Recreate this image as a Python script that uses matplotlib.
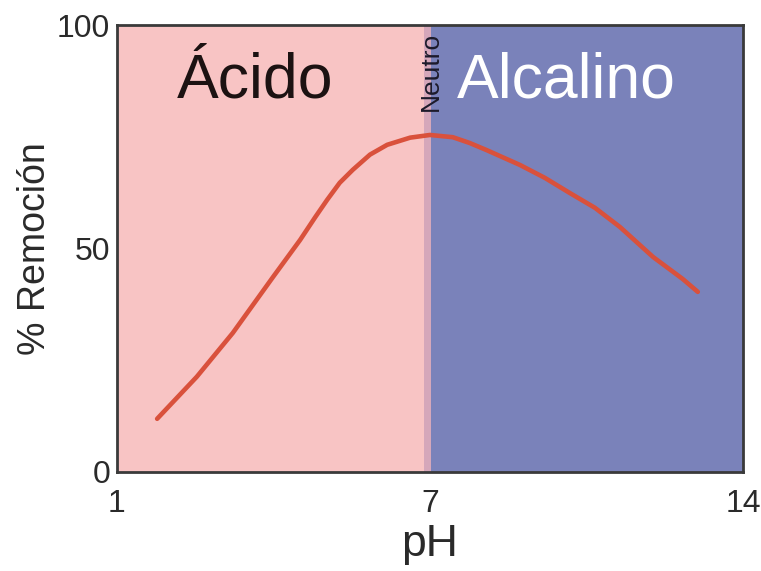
import numpy as np
import matplotlib
matplotlib.use("Agg")
import matplotlib.pyplot as plt

plt.rcParams['font.family'] = ['Liberation Sans', 'DejaVu Sans']

# pH vs % removal curve
ph = [1.77, 2.53, 3.22, 3.99, 4.51, 4.80, 5.03, 5.27, 5.52, 5.85, 6.18, 6.62, 7.0,
      7.51, 7.89, 8.27, 9.01, 9.57, 10.13, 10.69, 11.25, 11.99, 12.65, 12.99]
remocion = [11.9, 21.3, 31.1, 43.6, 51.9, 57.0, 60.9, 64.7, 67.6, 71.0, 73.2, 74.8, 75.4,
            74.9, 73.6, 72.0, 68.7, 65.8, 62.4, 59.1, 54.8, 48.1, 43.2, 40.3]

x_ticks = [1, 7, 14]
y_ticks = [0, 50, 100]
zone_labels = ["Ácido", "Neutro", "Alcalino"]

# Piecewise scale: acid range (1-7) and alkaline range (7-14) each take half the axis
def fwd(x):
    x = np.asarray(x, dtype=float)
    return np.where(x <= 7, (x - 1) / 6 * 0.5, 0.5 + (x - 7) / 7 * 0.5)

def inv(u):
    u = np.asarray(u, dtype=float)
    return np.where(u <= 0.5, 1 + u / 0.5 * 6, 7 + (u - 0.5) / 0.5 * 7)

fig = plt.figure(figsize=(7.61, 5.71), dpi=100)
ax = fig.add_axes([0.1537, 0.1734, 0.8226, 0.7828])
ax.set_xscale('function', functions=(fwd, inv))
ax.set_xlim(1, 14)
ax.set_ylim(0, 100)

ax.axvspan(1, 7, color='#f8c4c4', lw=0, zorder=0)
ax.axvspan(7, 14, color='#7a82ba', lw=0, zorder=0)
ax.axvspan(6.88, 7.03, color='#d5a7ba', lw=0, zorder=0.5)

ax.plot(ph, remocion, color='#d9513c', lw=3.3, solid_capstyle='round',
        solid_joinstyle='round', zorder=3)

ax.text(2.15, 87.5, zone_labels[0], fontsize=45, color='#1c1212',
        ha='left', va='center')
ax.text(7.03, 98.4, zone_labels[1], fontsize=19, color='#1c1a2a',
        rotation=90, ha='center', va='top')
ax.text(10.05, 87.5, zone_labels[2], fontsize=45, color='white',
        ha='center', va='center')

ax.set_xticks(x_ticks)
ax.set_xticklabels([str(t) for t in x_ticks])
ax.set_yticks(y_ticks)
ax.set_yticklabels([str(t) for t in y_ticks])
ax.tick_params(axis='both', length=0, labelsize=23, colors='#2a2a2a')
ax.tick_params(axis='x', pad=12)
ax.tick_params(axis='y', pad=5)

ax.set_xlabel('pH', fontsize=32, color='#2a2a2a', labelpad=4)
ax.set_ylabel('% Remoción', fontsize=27, color='#2a2a2a', labelpad=3)

for s in ax.spines.values():
    s.set_color('#3a3a3a')
    s.set_linewidth(2)

fig.savefig('out.png', dpi=100, facecolor='white')
